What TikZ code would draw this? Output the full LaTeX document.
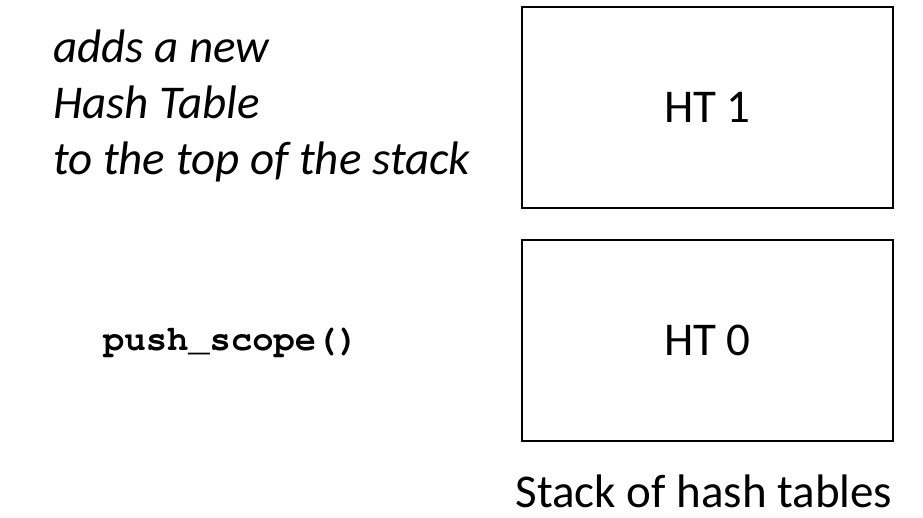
\documentclass[tikz,border=0pt]{standalone}
\usepackage{fontspec}
\setmainfont{Carlito}
\newfontfamily\cursorfont{TeX Gyre Cursor}
\begin{document}
\begin{tikzpicture}[x=1pt,y=1pt,
  htbox/.style={draw=black, line width=2pt, minimum width=371.3pt, minimum height=201pt, inner sep=0pt, font=\fontsize{47}{56}\selectfont},
  plain/.style={inner sep=0pt, font=\fontsize{47}{56}\selectfont}]
\useasboundingbox (0,0) rectangle (923,517);
\node[htbox] (ht1) at (707.35,409.2) {HT 1};
\node[htbox] (ht0) at (707.35,176.3) {HT 0};
\node[plain, anchor=base] (cap) at (704,10) {Stack of hash tables};
\node[plain, anchor=base west] (desc) at (53,454.3) {\itshape\begin{tabular}[t]{@{}l@{}}adds a new\\ Hash Table\\ to the top of the stack\end{tabular}};
\node[inner sep=0pt, anchor=base west, font=\fontsize{35.5}{40}\selectfont\cursorfont\bfseries] (push) at (103,166) {push\_scope()};
\end{tikzpicture}
\end{document}
